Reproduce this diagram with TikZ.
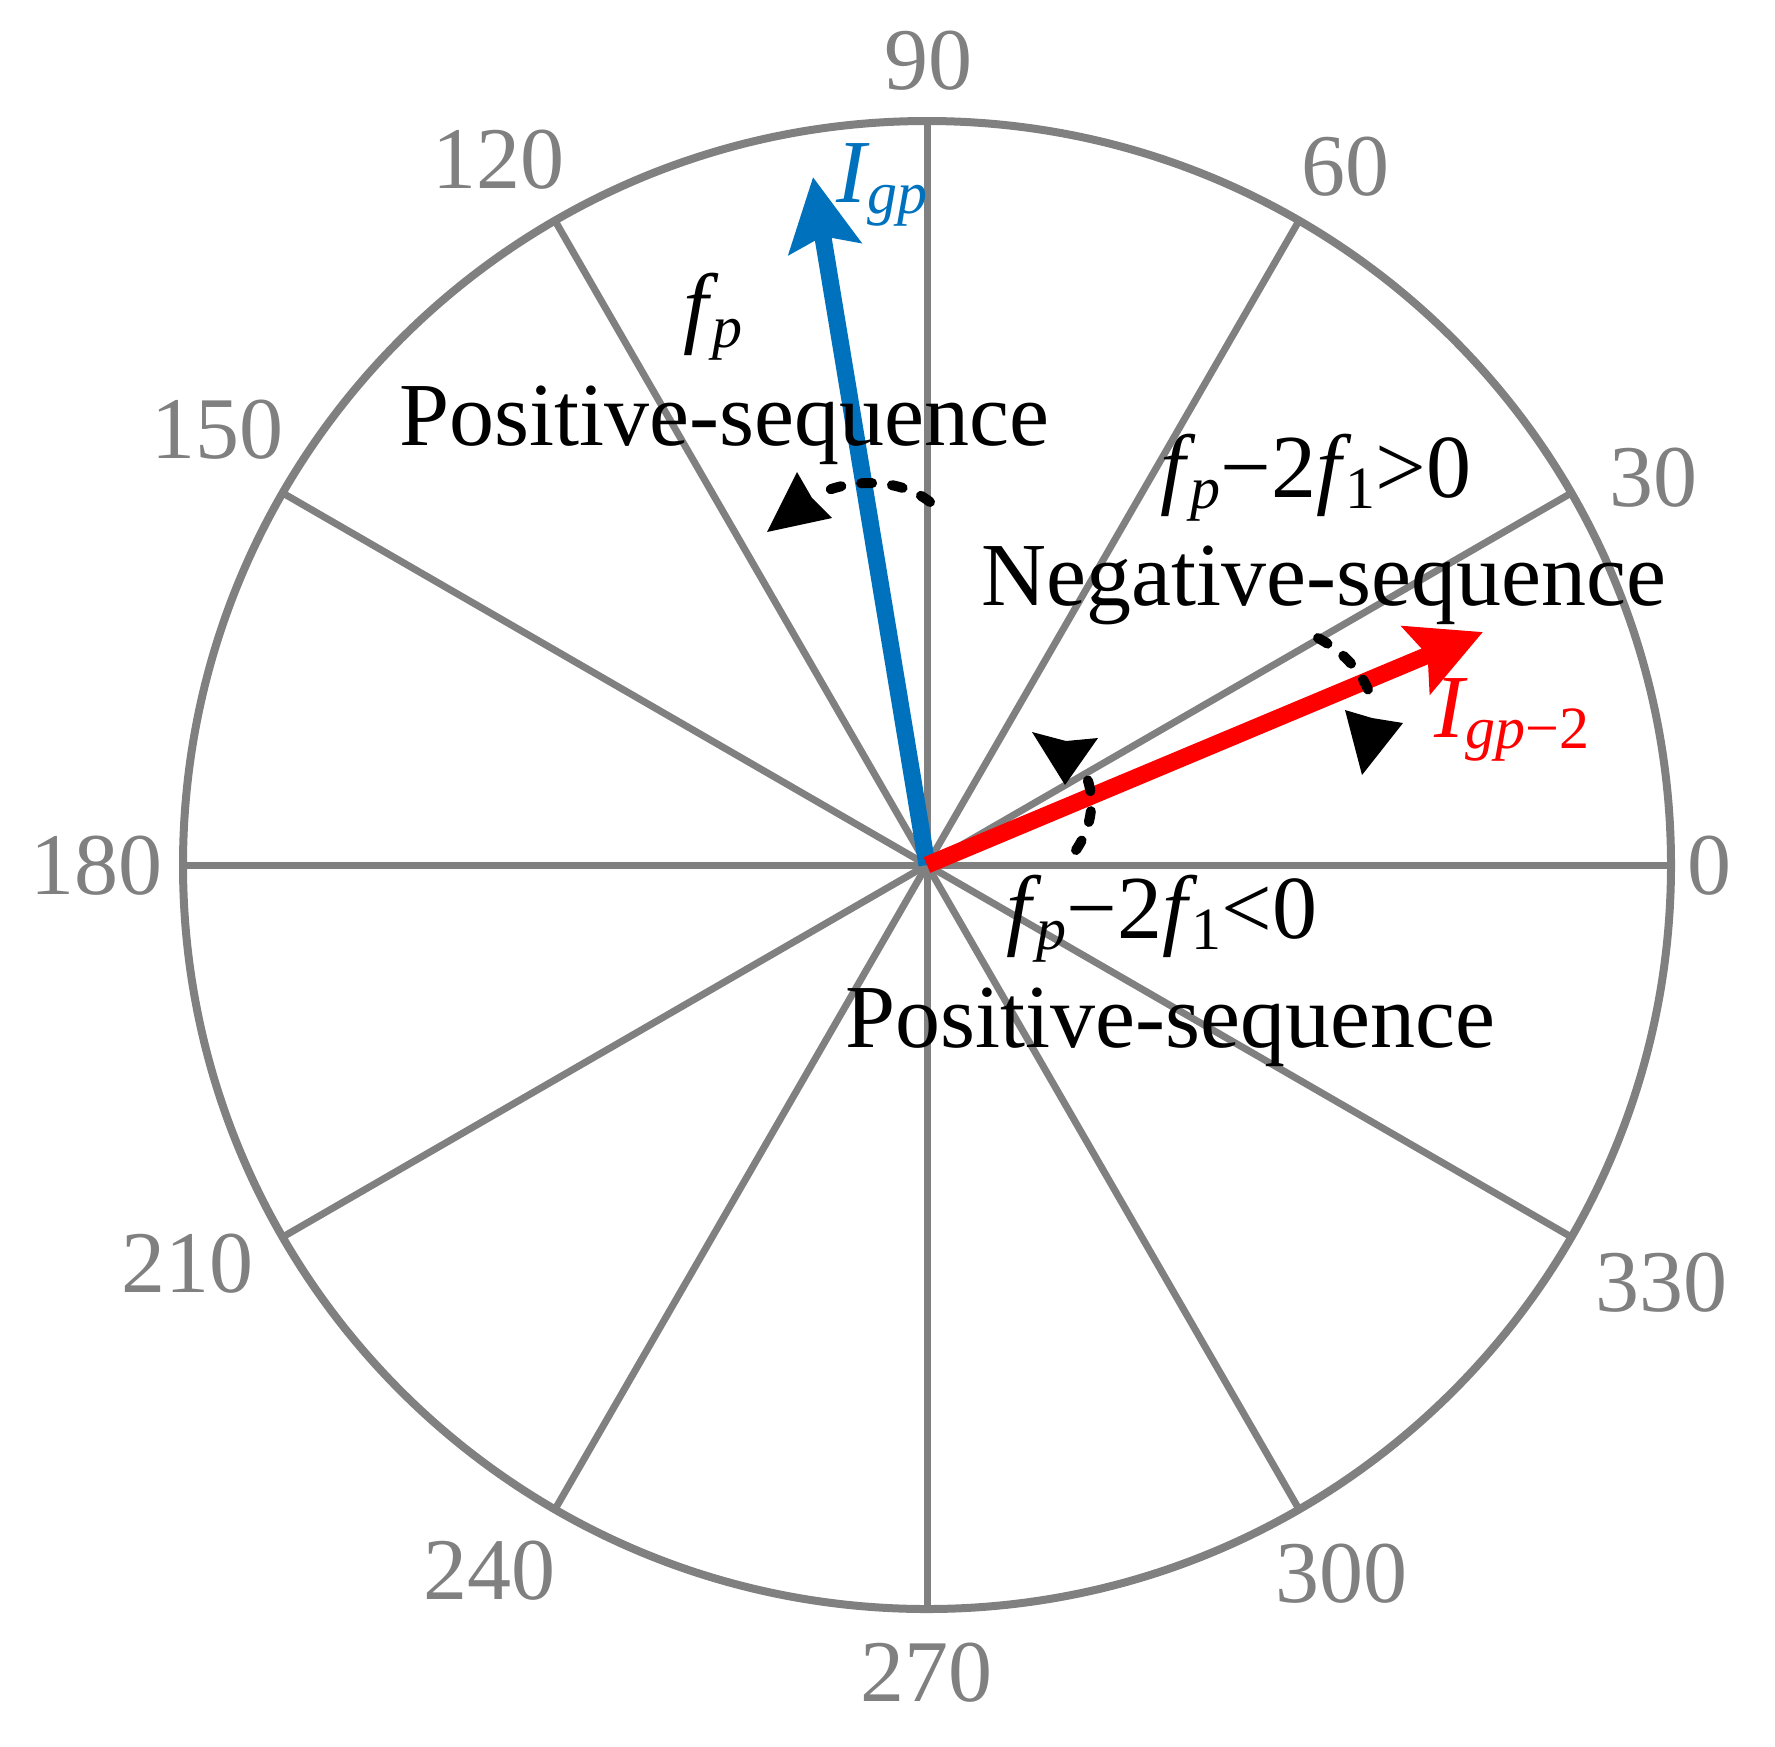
\documentclass[tikz,border=0pt]{standalone}
\usepackage{fontspec}
\setmainfont{Liberation Serif}
\usetikzlibrary{arrows.meta}
\definecolor{gline}{RGB}{128,128,128}
\definecolor{mblue}{RGB}{0,114,189}
\definecolor{mred}{RGB}{255,0,0}
\newcommand\sbx[1]{\raisebox{-5.5pt}{\fontsize{30}{30}\selectfont#1}}
\newcommand\fsub[1]{\textit{f}\kern-3pt\sbx{#1}}
\begin{document}
\begin{tikzpicture}[x=0.5pt,y=-0.5pt,
  spoke/.style={draw=gline,line width=3.5pt},
  rim/.style={draw=gline,line width=4pt},
  deg/.style={text=gline,font=\fontsize{44}{50}\selectfont,inner sep=0pt,anchor=center},
  lbl/.style={font=\fontsize{45}{52}\selectfont,inner sep=0pt,anchor=base},
  dasharc/.style={line width=5pt,line cap=round,dash pattern=on 5.5pt off 10pt},
  headfill/.style={fill=black,draw=none},
  phasor/.style={line width=8.5pt,-{Stealth[length=36pt,width=36pt,inset=6pt]}},
]
\useasboundingbox (0,0) rectangle (1775,1746);
\coordinate (c) at (927,865);
% spokes and rim
\foreach \a in {0,30,...,330}
  \draw[spoke] (c) -- ++({744*cos(\a)},{-744*sin(\a)});
\draw[rim] (c) circle[radius=372pt];
% degree labels
\node[deg] (d0)   at (1709,866) {0};
\node[deg] (d30)  at (1653,478) {30};
\node[deg] (d60)  at (1345,167) {60};
\node[deg] (d90)  at (928,61)   {90};
\node[deg] (d120) at (498,160)  {120};
\node[deg] (d150) at (217,430)  {150};
\node[deg] (d180) at (96,866)   {180};
\node[deg] (d210) at (187,1264) {210};
\node[deg] (d240) at (489,1571) {240};
\node[deg] (d270) at (926,1673) {270};
\node[deg] (d300) at (1341,1574) {300};
\node[deg] (d330) at (1661,1283) {330};
% phasors
\coordinate (bt) at (813,177);
\coordinate (rt) at (1483,632);
\draw[phasor,mblue] (c) -- (bt);
\draw[phasor,mred] (c) -- (rt);
% texts
\node[lbl] (tps) at (724,445) {Positive-sequence};
\node[lbl,anchor=base west] (fp) at (683,336) {\fsub{\textit{p}}};
\node[lbl,anchor=base west,text=mblue] (igp) at (836,202) {\textit{I}\kern-1pt\sbx{\textit{gp}}};
\node[lbl] (fgt) at (1316,497) {\fsub{\textit{p}}−2\fsub{1}>0};
\node[lbl] (neg) at (1324,605) {Negative-sequence};
\node[lbl,anchor=base west,text=mred] (igp2) at (1434,737) {\textit{I}\kern-1pt\sbx{\textit{gp}−2}};
\node[lbl] (flt) at (1162,938) {\fsub{\textit{p}}−2\fsub{1}<0};
\node[lbl] (bps) at (1170,1047) {Positive-sequence};
% dashed rotation arcs
\draw[dasharc] (930,502) .. controls (900,478) and (850,478) .. (817,495);
\fill[headfill] (797,472) -- (767,532) -- (832,518) -- (812,498) -- cycle;
\draw[dasharc] (1318,638) .. controls (1350,655) and (1372,685) .. (1372,708);
\fill[headfill] (1345,710) -- (1362,775) -- (1403,723) -- (1372,718) -- cycle;
\draw[dasharc] (1076,850) .. controls (1096,820) and (1095,790) .. (1081,764);
\fill[headfill] (1032,732) -- (1065,785) -- (1098,738) -- (1066,741) -- cycle;
\end{tikzpicture}
\end{document}
